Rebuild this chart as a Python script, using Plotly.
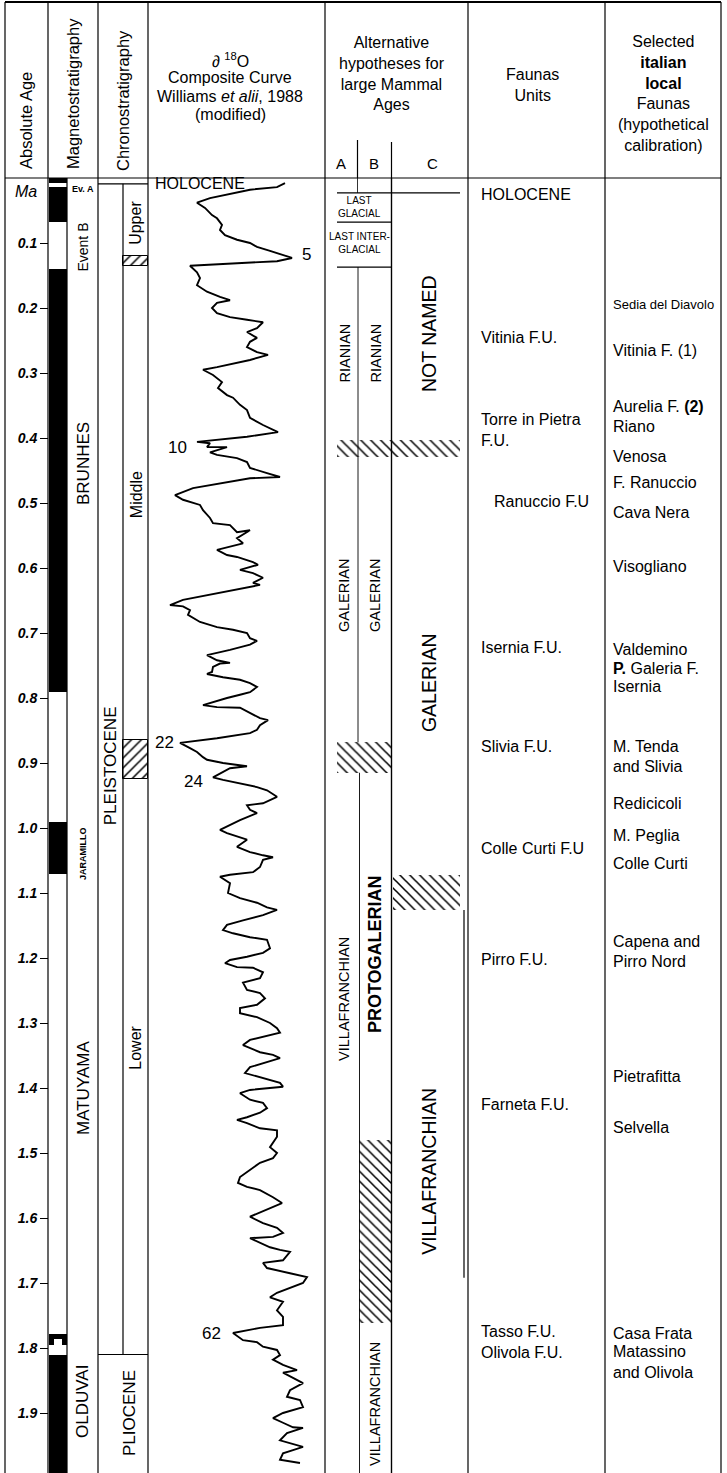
import plotly.graph_objects as go

W, H = 727, 1473
TOP_PX, PX_PER_MA = 178, 650.0
AGE_TOP = -TOP_PX / PX_PER_MA
AGE_BOT = (H - TOP_PX) / PX_PER_MA
FONT = "Liberation Sans, Arial, Helvetica, sans-serif"

# ---------------- data ----------------
age_ticks = [0.1, 0.2, 0.3, 0.4, 0.5, 0.6, 0.7, 0.8, 0.9, 1.0,
             1.1, 1.2, 1.3, 1.4, 1.5, 1.6, 1.7, 1.8, 1.9]
age_tick_labels = ["0.1", "0.2", "0.3", "0.4", "0.5", "0.6", "0.7", "0.8", "0.9", "1.0",
                   "1.1", "1.2", "1.3", "1.4", "1.5", "1.6", "1.7", "1.8", "1.9"]

# Magnetostratigraphy: normal polarity (black) intervals, Ma
mag_normal_top = [0.000, 0.014, 0.140, 0.990, 1.778, 1.810]
mag_normal_base = [0.008, 0.068, 0.790, 1.070, 1.795, 2.000]
mag_notch_top = [1.786]
mag_notch_base = [1.795]
mag_labels = ["Event B", "BRUNHES", "JARAMILLO", "MATUYAMA", "OLDUVAI"]
mag_label_age = [0.107, 0.440, 1.040, 1.400, 1.883]
mag_event_a = ["Ev. A"]
mag_event_a_age = [0.017]

# Chronostratigraphy
chrono_hatch_top = [0.120, 0.865]
chrono_hatch_base = [0.135, 0.925]
holocene_base = 0.009
pliocene_top = 1.810
series_labels = ["PLEISTOCENE", "PLIOCENE"]
series_label_age = [0.905, 1.900]
subseries_labels = ["Upper", "Middle", "Lower"]
subseries_label_age = [0.069, 0.488, 1.338]

# delta 18O composite curve (relative units, glacial = left)
curve_age = [
    0.008, 0.014, 0.018, 0.031, 0.038, 0.046, 0.057, 0.062, 0.072, 0.080, 0.088, 0.095, 0.100, 0.106,
    0.112, 0.118, 0.123, 0.128, 0.135, 0.145, 0.154, 0.165, 0.175, 0.183, 0.188, 0.192, 0.200, 0.208,
    0.214, 0.218, 0.222, 0.231, 0.237, 0.246, 0.252, 0.260, 0.268, 0.272, 0.280, 0.291, 0.295, 0.303,
    0.314, 0.323, 0.334, 0.338, 0.349, 0.357, 0.369, 0.380, 0.391, 0.398, 0.406, 0.408, 0.414, 0.414,
    0.422, 0.426, 0.431, 0.437, 0.446, 0.454, 0.460, 0.462, 0.477, 0.488, 0.495, 0.503, 0.511, 0.523,
    0.531, 0.534, 0.545, 0.542, 0.554, 0.562, 0.572, 0.580, 0.583, 0.591, 0.595, 0.603, 0.608, 0.615,
    0.623, 0.626, 0.634, 0.649, 0.657, 0.659, 0.665, 0.672, 0.683, 0.691, 0.695, 0.700, 0.708, 0.712,
    0.718, 0.726, 0.734, 0.742, 0.746, 0.747, 0.752, 0.760, 0.763, 0.768, 0.772, 0.777, 0.783, 0.791,
    0.795, 0.800, 0.811, 0.814, 0.815, 0.823, 0.831, 0.834, 0.842, 0.849, 0.854, 0.862, 0.869, 0.877,
    0.883, 0.891, 0.895, 0.900, 0.903, 0.905, 0.908, 0.922, 0.926, 0.931, 0.937, 0.942, 0.952, 0.962,
    0.965, 0.972, 0.977, 0.988, 1.003, 1.008, 1.014, 1.018, 1.029, 1.037, 1.042, 1.045, 1.049, 1.060,
    1.068, 1.072, 1.075, 1.085, 1.100, 1.108, 1.115, 1.122, 1.126, 1.134, 1.142, 1.149, 1.157, 1.162,
    1.168, 1.172, 1.185, 1.192, 1.198, 1.203, 1.208, 1.214, 1.215, 1.222, 1.231, 1.238, 1.249, 1.254,
    1.262, 1.272, 1.277, 1.285, 1.291, 1.300, 1.308, 1.315, 1.326, 1.334, 1.345, 1.349, 1.354, 1.360,
    1.368, 1.377, 1.383, 1.392, 1.398, 1.400, 1.403, 1.408, 1.418, 1.423, 1.431, 1.438, 1.445, 1.449,
    1.454, 1.462, 1.465, 1.475, 1.491, 1.500, 1.508, 1.515, 1.526, 1.537, 1.546, 1.552, 1.557, 1.568,
    1.577, 1.583, 1.591, 1.598, 1.608, 1.615, 1.623, 1.629, 1.631, 1.638, 1.645, 1.649, 1.652, 1.665,
    1.669, 1.677, 1.680, 1.685, 1.691, 1.700, 1.715, 1.722, 1.729, 1.742, 1.752, 1.765, 1.769, 1.777,
    1.788, 1.791, 1.798, 1.803, 1.811, 1.818, 1.826, 1.834, 1.838, 1.849, 1.854, 1.865, 1.875, 1.880,
    1.891, 1.900, 1.908, 1.915, 1.922, 1.923, 1.931, 1.942, 1.946, 1.952, 1.957, 1.962, 1.972, 1.975,
    1.977]
curve_d18o = [
    137, 129, 102, 62, 49, 57, 64, 69, 74, 72, 77, 89, 102, 109,
    122, 135, 144, 129, 42, 49, 52, 49, 59, 72, 82, 69, 64, 69,
    82, 99, 115, 109, 99, 109, 102, 99, 109, 120, 102, 69, 55, 65,
    74, 70, 79, 85, 92, 99, 102, 115, 130, 99, 49, 62, 59, 79,
    62, 69, 89, 99, 102, 119, 132, 102, 45, 27, 35, 52, 55, 62,
    65, 82, 89, 102, 89, 95, 69, 79, 89, 105, 110, 92, 105, 115,
    105, 112, 85, 35, 22, 35, 42, 40, 52, 69, 85, 99, 102, 109,
    102, 82, 59, 69, 82, 72, 65, 64, 59, 75, 92, 102, 109, 102,
    92, 79, 55, 69, 92, 102, 112, 120, 112, 109, 102, 69, 32, 42,
    49, 55, 59, 75, 89, 99, 82, 65, 75, 92, 109, 119, 129, 115,
    99, 102, 109, 92, 72, 79, 92, 99, 89, 102, 115, 125, 115, 112,
    105, 82, 72, 82, 80, 92, 109, 119, 129, 115, 95, 79, 75, 85,
    102, 119, 122, 115, 99, 82, 77, 89, 105, 115, 112, 95, 99, 112,
    117, 109, 92, 92, 109, 122, 129, 132, 102, 95, 112, 125, 132, 119,
    102, 97, 112, 132, 135, 122, 102, 92, 102, 115, 119, 112, 99, 89,
    99, 112, 129, 129, 122, 129, 125, 112, 102, 92, 90, 99, 112, 125,
    134, 125, 112, 102, 115, 129, 135, 125, 102, 112, 122, 132, 142, 135,
    115, 119, 129, 142, 159, 155, 129, 122, 135, 129, 135, 135, 112, 85,
    95, 109, 115, 129, 132, 125, 135, 149, 135, 149, 155, 142, 139, 152,
    155, 135, 125, 135, 145, 155, 139, 132, 142, 155, 145, 135, 132, 142,
    152]
stage_labels = ["5", "10", "22", "24", "62"]
stage_age = [0.118, 0.414, 0.869, 0.928, 1.777]

# Alternative hypotheses for large mammal ages
alt_line_age = [0.023, 0.068, 0.137]
alt_hatch_top = [0.403, 0.868, 1.072, 1.480]
alt_hatch_base = [0.429, 0.915, 1.126, 1.762]
alt_hatch_cols = ["ABC", "AB", "C", "B"]
c_villafranchian_edge = [1.126, 1.692]
alt_a_labels = ["RIANIAN", "GALERIAN", "VILLAFRANCHIAN"]
alt_a_age = [0.270, 0.643, 1.263]
alt_b_labels = ["RIANIAN", "GALERIAN", "<b>PROTOGALERIAN</b>", "VILLAFRANCHIAN"]
alt_b_age = [0.270, 0.643, 1.194, 1.886]
alt_c_labels = ["NOT NAMED", "GALERIAN", "VILLAFRANCHIAN"]
alt_c_age = [0.240, 0.777, 1.529]
alt_small_labels = ["LAST<br>GLACIAL", "LAST INTER-<br>GLACIAL"]
alt_small_age = [0.044, 0.100]

# Faunal units
fauna_units = ["HOLOCENE", "Vitinia F.U.", "Torre in Pietra<br>F.U.", "Ranuccio F.U",
               "Isernia F.U.", "Slivia F.U.", "Colle Curti F.U", "Pirro F.U.",
               "Farneta F.U.", "Tasso F.U.<br>Olivola F.U."]
fauna_unit_age = [0.025, 0.245, 0.388, 0.498, 0.723, 0.875, 1.032, 1.203, 1.426, 1.791]

# Selected Italian local faunas
local_faunas = ["Sedia del Diavolo", "Vitinia F. (1)", "Aurelia F. <b>(2)</b>", "Riano", "Venosa",
                "F. Ranuccio", "Cava Nera", "Visogliano", "Valdemino", "<b>P.</b> Galeria F.",
                "Isernia", "M. Tenda", "and Slivia", "Redicicoli", "M. Peglia", "Colle Curti",
                "Capena and", "Pirro Nord", "Pietrafitta", "Selvella", "Casa Frata",
                "Matassino", "and Olivola"]
local_fauna_age = [0.195, 0.265, 0.352, 0.382, 0.429, 0.469, 0.514, 0.598, 0.726, 0.754,
                   0.783, 0.875, 0.906, 0.962, 1.011, 1.054, 1.175, 1.206, 1.383, 1.460,
                   1.777, 1.806, 1.837]

# ---------------- layout helpers ----------------
def yp(px):
    return 1 - px / H

COL_X = {"A": (325, 358), "B": (358, 392), "C": (392, 461), "AB": (325, 392), "ABC": (325, 461)}

fig = go.Figure()
shapes = []
ann = []

def vline(x, y0, y1, ref="paper", w=1.2, dash="solid"):
    shapes.append(dict(type="line", xref="x", yref=ref, x0=x, x1=x, y0=y0, y1=y1,
                       line=dict(color="black", width=w, dash=dash)))

def hline(y, x0, x1, ref="y", w=1.2):
    shapes.append(dict(type="line", xref="x", yref=ref, x0=x0, x1=x1, y0=y, y1=y,
                       line=dict(color="black", width=w)))

def text(x, y, s, size=16, ref="y", angle=0, xanchor="center", align="center", **kw):
    ann.append(dict(x=x, y=y, xref="x", yref=ref, text=s, showarrow=False,
                    textangle=angle, xanchor=xanchor, yanchor="middle", align=align,
                    font=dict(family=FONT, size=size, color="black", **kw)))

def bars(x0, x1, tops, bases, color="black", pattern=None, line_w=0):
    n = len(tops)
    marker = dict(color=color, line=dict(color="black", width=line_w))
    if pattern:
        marker["pattern"] = dict(shape=pattern, fgcolor="black", bgcolor="white",
                                 size=7, solidity=0.22, fillmode="replace")
    fig.add_trace(go.Bar(x=[(x0 + x1) / 2] * n, width=[x1 - x0] * n, base=tops,
                         y=[b - t for t, b in zip(tops, bases)], marker=marker,
                         xaxis="x", yaxis="y", hoverinfo="skip", showlegend=False))

# ---------------- magnetostratigraphy ----------------
bars(48.5, 67, mag_normal_top, mag_normal_base)
bars(54, 62, mag_notch_top, mag_notch_base, color="white")
for s, a in zip(mag_labels, mag_label_age):
    small = s == "JARAMILLO"
    text(83, a, s, size=9 if small else (14 if s == "Event B" else 17), angle=-90,
         weight="bold" if small else "normal")
for s, a in zip(mag_event_a, mag_event_a_age):
    text(83, a, s, size=9, weight="bold")

# ---------------- chronostratigraphy ----------------
bars(123, 148, chrono_hatch_top, chrono_hatch_base, color="white", pattern="/", line_w=1)
hline(holocene_base, 98, 148)
hline(pliocene_top, 98, 148)
vline(123, holocene_base, pliocene_top, ref="y")
for s, a in zip(series_labels, series_label_age):
    text(110 if s == "PLEISTOCENE" else 129, a, s, size=17, angle=-90)
for s, a in zip(subseries_labels, subseries_label_age):
    text(136, a, s, size=16, angle=-90)

# ---------------- delta 18O curve ----------------
fig.add_trace(go.Scatter(x=curve_d18o, y=curve_age, xaxis="x2", yaxis="y", mode="lines",
                         line=dict(color="black", width=1.9), hoverinfo="skip", showlegend=False))
stage_x = [306, 177, 164, 193, 211]
for s, a, x in zip(stage_labels, stage_age, stage_x):
    text(x, a, s, size=17)
text(153, 0.009, "HOLOCENE", size=16, xanchor="left")

# ---------------- alternative hypotheses ----------------
for t, b, c in zip(alt_hatch_top, alt_hatch_base, alt_hatch_cols):
    x0, x1 = COL_X[c]
    bars(x0 + (12 if "A" in c else 1), x1 - 1, [t], [b], color="white", pattern="\\")
hline(alt_line_age[0], 337, 460)
hline(alt_line_age[1], 337, 391)
hline(alt_line_age[2], 337, 391)
vline(464, c_villafranchian_edge[0], c_villafranchian_edge[1], ref="y")
# dividers A|B and B|C
vline(357.5, yp(140), yp(178))
vline(357.5, 0, alt_line_age[0], ref="y", w=0.8)
vline(358, alt_line_age[2], alt_hatch_top[1], ref="y", w=0.9)
vline(359.5, alt_hatch_base[1], AGE_BOT, ref="y", w=0.9)
vline(391.5, yp(142), 0)
vline(391.5, 0, AGE_BOT, ref="y")
for s, a in zip(alt_a_labels, alt_a_age):
    text(344, a, s, size=14.5, angle=-90)
for s, a in zip(alt_b_labels, alt_b_age):
    text(375, a, s, size=18 if "PROTO" in s else 14.5, angle=-90)
for s, a in zip(alt_c_labels, alt_c_age):
    text(429, a, s, size=19.5, angle=-90)
for s, a in zip(alt_small_labels, alt_small_age):
    text(359, a, s, size=10)

# ---------------- faunas ----------------
for s, a in zip(fauna_units, fauna_unit_age):
    text(492 if s.startswith("Ranuccio") else 479, a, s, size=16, xanchor="left", align="left")
for s, a in zip(local_faunas, local_fauna_age):
    text(611, a, s, size=13 if s.startswith("Sedia") else 16, xanchor="left", align="left")

# ---------------- frame ----------------
for x in [5, 48, 98, 148, 325, 468, 605, 721]:
    vline(x, 0, yp(2))
vline(67, AGE_BOT, 0, ref="y")
hline(yp(2), 5, 721, ref="paper", w=2.2)
hline(0, 5, 721, w=1.2)

# ---------------- header ----------------
text(26, yp(121), "Absolute Age", size=16.5, ref="paper", angle=-90)
text(73, yp(94), "Magnetostratigraphy", size=16.5, ref="paper", angle=-90)
text(123, yp(101), "Chronostratigraphy", size=16.5, ref="paper", angle=-90)
text(230, yp(60), "\u2202 <sup>18</sup>O", size=16, ref="paper")
text(230, yp(78), "Composite Curve", size=16, ref="paper")
text(230, yp(96), "Williams <i>et alii</i>, 1988", size=16, ref="paper")
text(230, yp(115), "(modified)", size=16, ref="paper")
text(392, yp(74), "Alternative<br>hypotheses for<br>large Mammal<br>Ages", size=16, ref="paper")
text(532, yp(85), "Faunas<br>Units", size=16, ref="paper")
text(663, yp(93), "Selected<br><b>italian</b><br><b>local</b><br>Faunas<br>(hypothetical<br>calibration)",
     size=16, ref="paper")
text(341, yp(163), "A", size=15, ref="paper")
text(374, yp(163), "B", size=15, ref="paper")
text(432, yp(163), "C", size=15, ref="paper")
text(26, 0.020, "Ma", size=16, style="italic")

fig.update_layout(
    width=W, height=H, margin=dict(l=0, r=0, t=0, b=0, pad=0), autosize=False,
    paper_bgcolor="white", plot_bgcolor="white", barmode="overlay", bargap=0,
    showlegend=False, shapes=shapes, annotations=ann,
    xaxis=dict(range=[0, W], domain=[0, 1], visible=False, fixedrange=True, automargin=False),
    xaxis2=dict(range=[0, 177], domain=[148 / W, 325 / W], anchor="y", visible=False,
                automargin=False),
    yaxis=dict(range=[AGE_BOT, AGE_TOP], domain=[0, 1], anchor="free", position=48 / W,
               automargin=False,
               showgrid=False, zeroline=False, showline=False, ticks="outside", ticklen=8,
               tickwidth=1.2, tickcolor="black", tickvals=age_ticks, ticktext=age_tick_labels,
               tickfont=dict(family=FONT, size=14, color="black", style="italic", weight="bold")),
)
fig.write_html("out.html", config={"displayModeBar": False},
               post_script="document.body.style.margin='0px';document.body.style.overflow='hidden';")
